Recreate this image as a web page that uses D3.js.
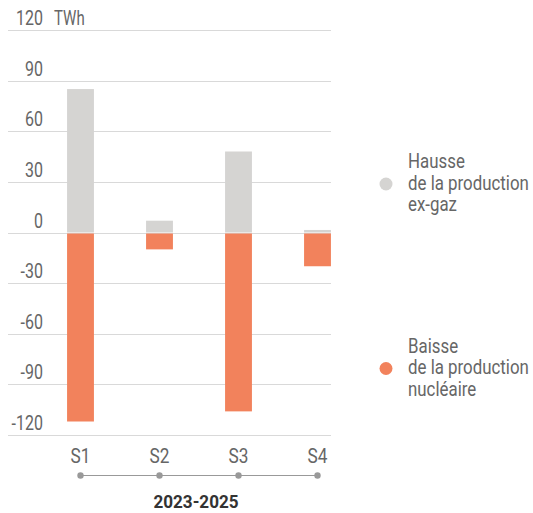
<!DOCTYPE html>
<html><head><meta charset="utf-8">
<script src="https://cdn.jsdelivr.net/npm/d3@7"></script>
<style>
html,body{margin:0;padding:0;background:#fff;}
svg text{font-family:Roboto,"Noto Sans",sans-serif;}
</style></head>
<body>
<svg id="c" width="533" height="513"></svg>
<script>
const categories = ["S1","S2","S3","S4"];
const hausseExGaz = [85, 7, 48, 1.5];
const baisseNucleaire = [-112, -10, -106, -20];
const yTicks = [120, 90, 60, 30, 0, -30, -60, -90, -120];
const unitLabel = "TWh";
const xTitle = "2023-2025";
const legendItems = [
  {lines:["Hausse","de la production","ex-gaz"], color:"#d5d4d2"},
  {lines:["Baisse","de la production","nucléaire"], color:"#f2825c"}
];

const svg = d3.select("#c");
const y = d3.scaleLinear().domain([-120,120]).range([435,30]);
const x = d3.scaleBand().domain(categories).range([41,357]).paddingInner(0.66).paddingOuter(0.33);
const gridX0 = 8, gridX1 = 331;

function ctext(parent, tx, ty, str, opts) {
  const sx = opts.sx || 0.86;
  return parent.append("text")
    .attr("transform", `translate(${tx},${ty}) scale(${sx},1)`)
    .attr("text-anchor", opts.anchor || "start")
    .attr("fill", opts.fill || "#666")
    .attr("font-size", opts.size || 18)
    .attr("font-weight", opts.weight || "normal")
    .text(str);
}

// gridlines
svg.append("g").selectAll("line").data(yTicks).join("line")
  .attr("x1",gridX0).attr("x2",gridX1)
  .attr("y1",d=>Math.round(y(d))+0.5).attr("y2",d=>Math.round(y(d))+0.5)
  .attr("stroke","#d9d9d9").attr("stroke-width",1);

// tick labels
const tg = svg.append("g");
yTicks.forEach(d => ctext(tg, 43, y(d)-5, d, {anchor:"end", size:19.5, sx:0.82}));
ctext(svg, 54, y(120)-5, unitLabel, {size:19.5, sx:0.77});

// bars
svg.append("g").selectAll("rect").data(hausseExGaz).join("rect")
  .attr("x",(d,i)=>x(categories[i])).attr("width",x.bandwidth())
  .attr("y",d=>y(d)).attr("height",d=>y(0)-y(d))
  .attr("fill",legendItems[0].color);
svg.append("g").selectAll("rect").data(baisseNucleaire).join("rect")
  .attr("x",(d,i)=>x(categories[i])).attr("width",x.bandwidth())
  .attr("y",y(0)+1).attr("height",d=>y(d)-y(0)-1)
  .attr("fill",legendItems[1].color);

// x labels
const cx = c => x(c)+x.bandwidth()/2;
const xg = svg.append("g");
categories.forEach(c => ctext(xg, cx(c), 463, c, {anchor:"middle", size:21, sx:0.82}));
svg.append("line").attr("x1",cx(categories[0])).attr("x2",cx(categories[categories.length-1]))
  .attr("y1",475.5).attr("y2",475.5).attr("stroke","#999").attr("stroke-width",1.2);
svg.append("g").selectAll("circle").data(categories).join("circle")
  .attr("cx",cx).attr("cy",475.5).attr("r",3.2).attr("fill","#999");
ctext(svg, 196, 508, xTitle, {anchor:"middle", size:19, weight:"bold", fill:"#333", sx:0.9});

// legend
const legY = [189.5, 374];
legendItems.forEach((it,k)=>{
  const g = svg.append("g");
  g.append("circle").attr("cx",386).attr("cy",legY[k]-5.5).attr("r",6.5).attr("fill",it.color);
  it.lines.forEach((t,j)=> ctext(g, 408, legY[k]+(j-1)*21.5, t, {size:19.5, sx:0.865}));
});
</script>
</body></html>
